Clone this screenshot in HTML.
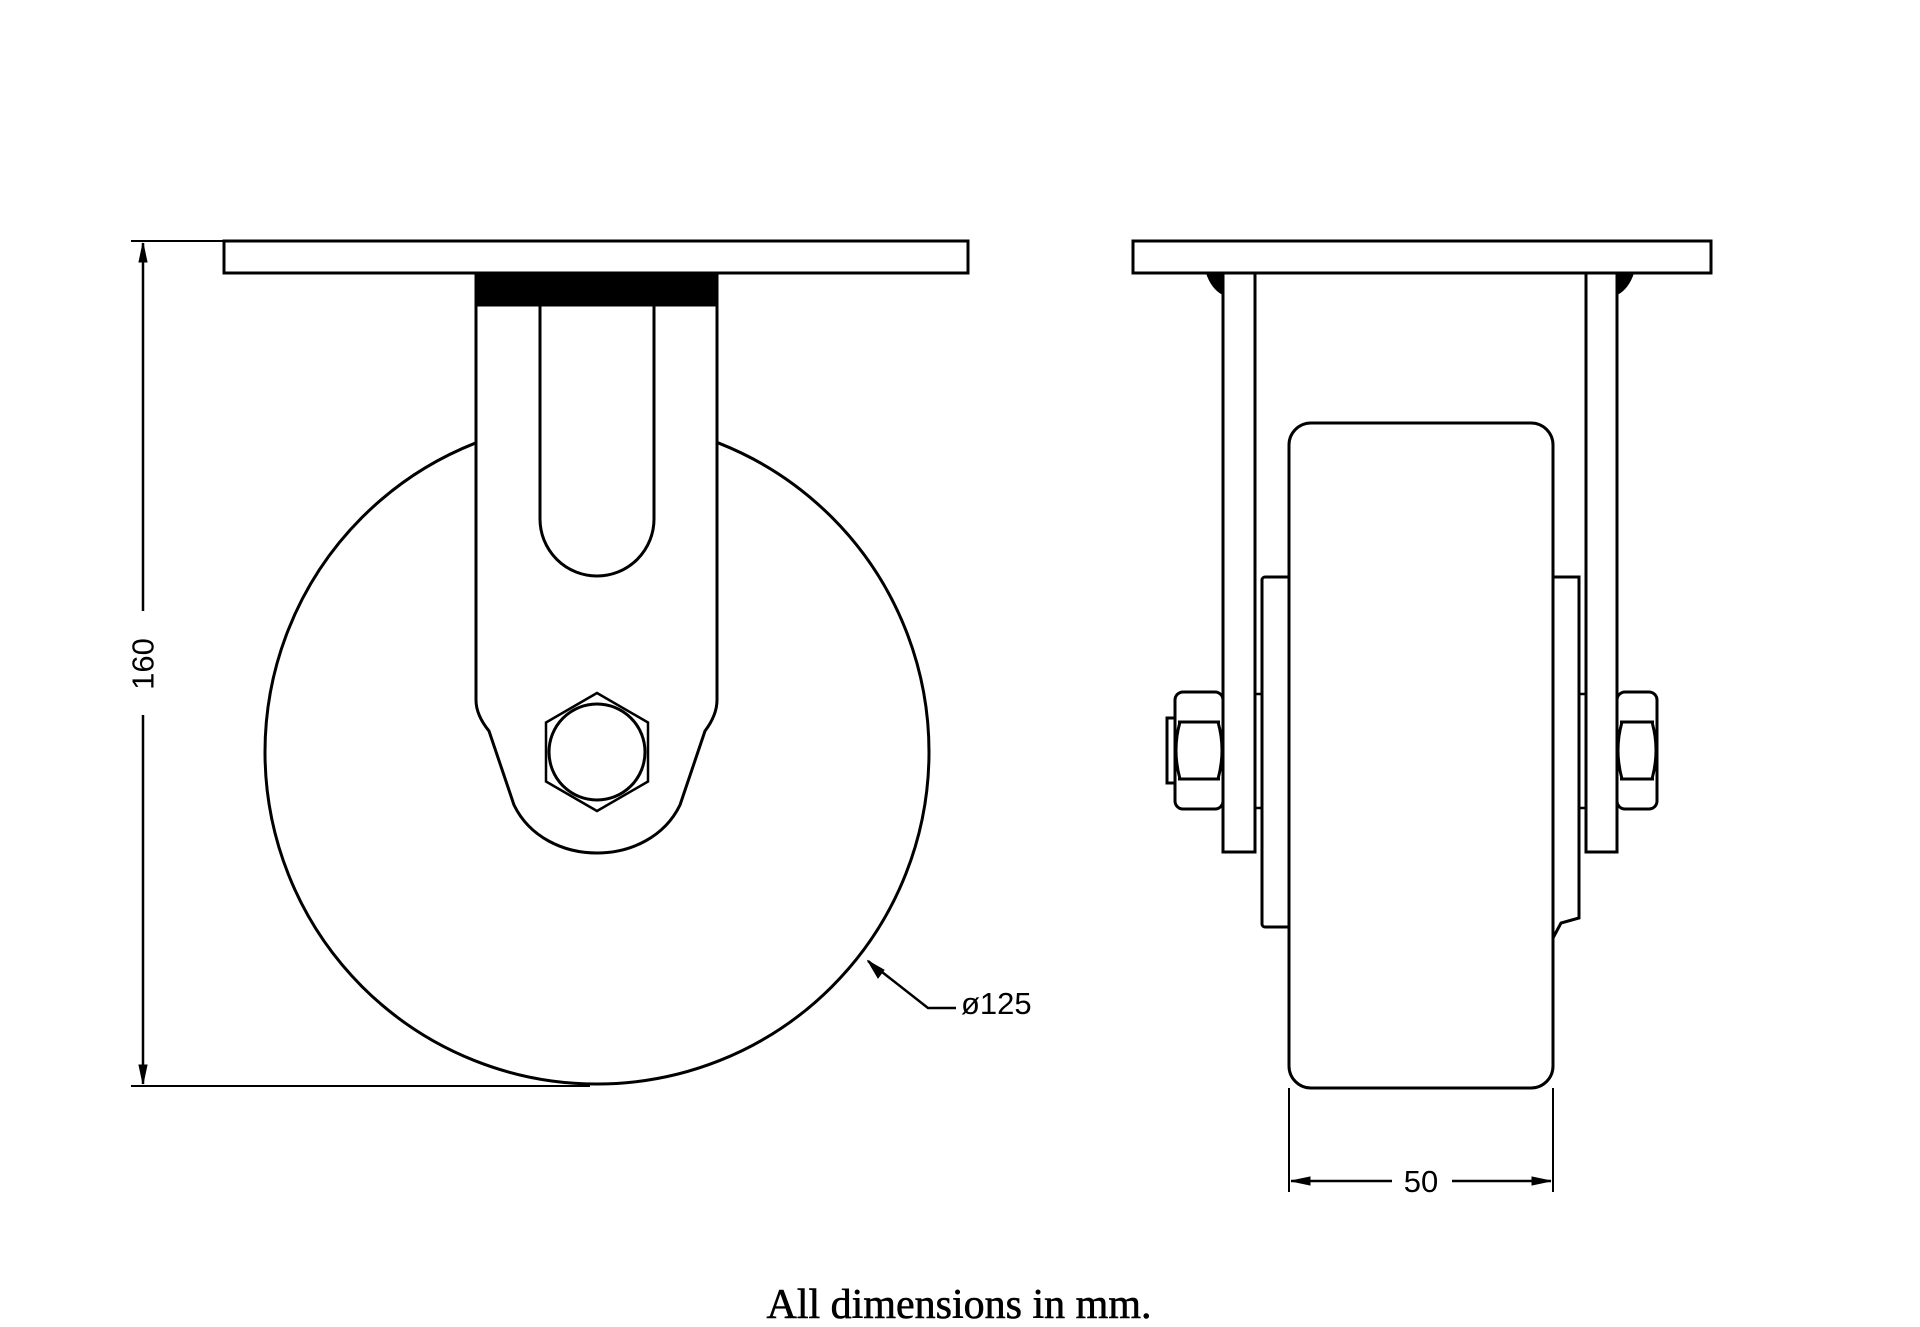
<!DOCTYPE html>
<html><head><meta charset="utf-8"><style>
html,body{margin:0;padding:0;background:#fff;}
svg{display:block;}
</style></head><body>
<svg width="1920" height="1327" viewBox="0 0 1920 1327" xmlns="http://www.w3.org/2000/svg">
<g fill="none" stroke="#000" stroke-width="3">
<!-- LEFT VIEW -->
<circle cx="597" cy="752" r="332" fill="#fff"/>
<rect x="224" y="241" width="744" height="32" fill="#fff"/>
<path d="M476 273 L476 700 Q476 715 489 731 L514 805 C545 869 649 869 680 805 L705 731 Q717 715 717 700 L717 273 Z" fill="#fff"/>
<rect x="476" y="273" width="241" height="32" fill="#000"/>
<path d="M540 305 L540 519 A57 57 0 0 0 654 519 L654 305"/>
<polygon points="597,693 648,722.5 648,781.5 597,811 546,781.5 546,722.5" stroke-width="2.5"/>
<circle cx="597" cy="752" r="48"/>
<!-- 160 dim -->
<line x1="131" y1="241" x2="224" y2="241" stroke-width="2"/>
<line x1="131" y1="1086" x2="590" y2="1086" stroke-width="2"/>
<line x1="143" y1="243" x2="143" y2="611" stroke-width="2.5"/>
<line x1="143" y1="715" x2="143" y2="1084" stroke-width="2.5"/>
<path d="M143 243 L139 262 L147 262 Z M143 1084 L139 1065 L147 1065 Z" fill="#000" stroke-width="1"/>
<!-- leader -->
<path d="M868 961 L928 1008 L956 1008" stroke-width="2.5"/>
<path d="M868 961 L878 978 L884 970 Z" fill="#000" stroke-width="1"/>

<!-- RIGHT VIEW -->
<rect x="1133" y="241" width="578" height="32" fill="#fff"/>
<rect x="1223" y="273" width="32" height="579"/>
<rect x="1586" y="273" width="31" height="579"/>
<path d="M1207 273 Q1212 288 1223 294 L1223 273 Z" fill="#000" stroke-width="2"/>
<path d="M1633 273 Q1628 288 1617 294 L1617 273 Z" fill="#000" stroke-width="2"/>
<rect x="1262" y="577" width="28" height="350" rx="3" fill="#fff"/>
<path d="M1553 577 L1579 577 L1579 918 L1561 923 L1553 938" fill="#fff"/>
<rect x="1289" y="423" width="264" height="665" rx="22" fill="#fff"/>
<!-- axle stubs -->
<path d="M1255 694 L1262 694 M1255 808 L1262 808 M1579 694 L1586 694 M1579 808 L1586 808" stroke-width="2.5"/>
<!-- left nut -->
<rect x="1175" y="692" width="48" height="117" rx="8" fill="#fff"/>
<path d="M1178 722 L1220 722 M1178 779 L1220 779 M1180 722 Q1172 750 1180 779 M1218 722 Q1226 750 1218 779"/>
<rect x="1167" y="718" width="8" height="65"/>
<!-- right nut -->
<rect x="1617" y="692" width="40" height="117" rx="8" fill="#fff"/>
<path d="M1620 722 L1654 722 M1620 779 L1654 779 M1622 722 Q1614 750 1622 779 M1652 722 Q1660 750 1652 779"/>
<!-- 50 dim -->
<line x1="1289" y1="1088" x2="1289" y2="1192" stroke-width="2"/>
<line x1="1553" y1="1088" x2="1553" y2="1192" stroke-width="2"/>
<line x1="1291" y1="1181" x2="1392" y2="1181" stroke-width="2.5"/>
<line x1="1452" y1="1181" x2="1551" y2="1181" stroke-width="2.5"/>
<path d="M1291 1181 L1310 1177 L1310 1185 Z M1551 1181 L1532 1177 L1532 1185 Z" fill="#000" stroke-width="1"/>
</g>
<g font-family="'Liberation Sans', sans-serif" font-size="31" fill="#000">
<text x="143" y="664" transform="rotate(-90 143 664)" text-anchor="middle" dominant-baseline="central">160</text>
<text x="961" y="1014">ø125</text>
<text x="1421" y="1192" text-anchor="middle">50</text>
</g>
<text x="959" y="1318" text-anchor="middle" font-family="'Liberation Serif', serif" font-size="42" fill="#000" stroke="#000" stroke-width="0.6">All dimensions in mm.</text>
</svg>
</body></html>
